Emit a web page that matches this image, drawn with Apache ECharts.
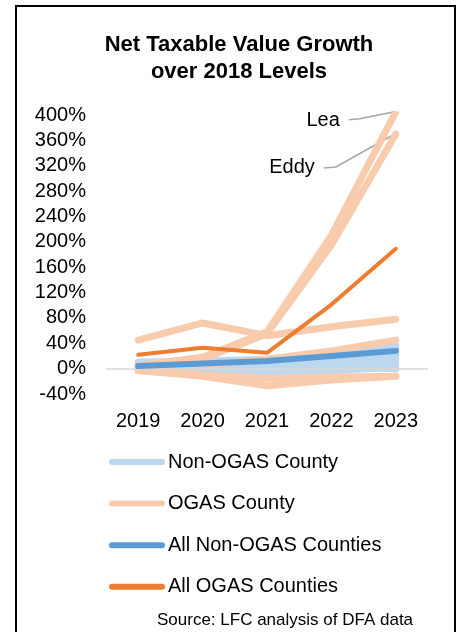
<!DOCTYPE html>
<html>
<head>
<meta charset="utf-8">
<script src="https://cdn.jsdelivr.net/npm/echarts@6/dist/echarts.min.js"></script>
<style>
  html, body { margin: 0; padding: 0; background: #fff; }
  #main { width: 461px; height: 632px; }
</style>
</head>
<body>
<div id="main"></div>
<script>
// categories and values (% growth over 2018)
var years = ['2019', '2020', '2021', '2022', '2023'];

// individual non oil & gas counties (light blue band)
var nonOgasCounties = [
  [0, 2, 3, 5, 0],
  [2, 4, 6, 10, 8],
  [3, 5, 8, 14, 15],
  [5, 7, 10, 18, 22],
  [6, 8, 12, 20, 27],
  [8, 10, 14, 24, 32],
  [10, 12, 15, 26, 36],
  [-2, -4, -5, -3, 2]
];

// individual oil & gas counties
var lea = [5, 18, 58, 210, 405];
var eddy = [3, 15, 55, 195, 370];
var ogasOthers = [
  [45, 72, 52, 66, 78],
  [2, 5, 15, 28, 45],
  [-3, -10, -15, -13, -12],
  [-3, -12, -27, -18, -12]
];

var allNonOgas = [4, 8, 12, 20, 28];
var allOgas = [22, 33, 25, 101, 189];

var yMin = -40, yMax = 400, yStep = 40;

var cLightBlue = '#BDD7EE';
var cLightOrange = '#F8CBAD';
var cBlue = '#5B9BD5';
var cOrange = '#ED7D31';

function lineSeries(name, data, color, width, z) {
  return {
    name: name,
    type: 'line',
    data: data,
    showSymbol: false,
    symbol: 'none',
    silent: true,
    z: z,
    itemStyle: { color: color },
    lineStyle: { color: color, width: width, cap: 'round', join: 'round' }
  };
}

var series = [];
// zero line
series.push({
  name: 'zero',
  type: 'line',
  data: [],
  markLine: {
    silent: true,
    symbol: 'none',
    label: { show: false },
    lineStyle: { color: '#D9D9D9', width: 1.5, type: 'solid' },
    data: [{ yAxis: 0 }]
  }
});
nonOgasCounties.forEach(function (d) {
  series.push(lineSeries('Non-OGAS County', d, cLightBlue, 7, 2));
});
var leaIdx = series.length;
series.push(lineSeries('OGAS County', lea, cLightOrange, 7, 3));
var eddyIdx = series.length;
series.push(lineSeries('OGAS County', eddy, cLightOrange, 7, 3));
ogasOthers.forEach(function (d) {
  series.push(lineSeries('OGAS County', d, cLightOrange, 7, 3));
});
series.push(lineSeries('All Non-OGAS Counties', allNonOgas, cBlue, 6, 5));
series.push(lineSeries('All OGAS Counties', allOgas, cOrange, 4, 6));

var chart = echarts.init(document.getElementById('main'));
var font = '"Liberation Sans", Arial, sans-serif';

chart.setOption({
  animation: false,
  textStyle: { fontFamily: font },
  grid: { left: 106, right: 33, top: 115, bottom: 238, containLabel: false },
  legend: {
    orient: 'vertical',
    left: 104,
    top: 447,
    itemWidth: 56,
    itemHeight: 6,
    itemGap: 21.6,
    icon: 'path://M3,0 L53,0 A3,3 0 0 1 53,6 L3,6 A3,3 0 0 1 3,0 Z',
    selectedMode: false,
    data: ['Non-OGAS County', 'OGAS County', 'All Non-OGAS Counties', 'All OGAS Counties'],
    textStyle: { fontSize: 20, color: '#000', fontFamily: font, padding: [0, 0, 0, -2] }
  },
  xAxis: {
    type: 'category',
    data: years,
    boundaryGap: true,
    axisLine: { show: false, onZero: false },
    axisTick: { show: false },
    axisLabel: { fontSize: 20, color: '#000', margin: 17, fontFamily: font }
  },
  yAxis: {
    type: 'value',
    min: yMin,
    max: yMax,
    interval: yStep,
    axisLine: { show: false },
    axisTick: { show: false },
    splitLine: { show: false },
    axisLabel: { fontSize: 20, color: '#000', margin: 20, fontFamily: font, formatter: '{value}%' }
  },
  series: series
});

// annotations for Lea and Eddy, placed from their last data points
var last = years.length - 1;
var pLea = chart.convertToPixel({ seriesIndex: leaIdx }, [years[last], lea[last]]);
var pEddy = chart.convertToPixel({ seriesIndex: eddyIdx }, [years[last], eddy[last]]);
var leaderStyle = { stroke: '#A6A6A6', lineWidth: 1.5, fill: null };

chart.setOption({
  graphic: [
    {
      type: 'rect',
      shape: { x: 16, y: 6, width: 439, height: 640 },
      style: { fill: null, stroke: '#000', lineWidth: 2 },
      silent: true
    },
    {
      type: 'text',
      x: 239, y: 45,
      style: { text: 'Net Taxable Value Growth', font: 'bold 22px ' + font, fill: '#000', textAlign: 'center', textVerticalAlign: 'middle' }
    },
    {
      type: 'text',
      x: 239, y: 72,
      style: { text: 'over 2018 Levels', font: 'bold 22px ' + font, fill: '#000', textAlign: 'center', textVerticalAlign: 'middle' }
    },
    {
      type: 'polyline',
      shape: { points: [[pLea[0] - 1, pLea[1]], [pLea[0] - 36, pLea[1] + 7], [pLea[0] - 47, pLea[1] + 8]] },
      style: leaderStyle
    },
    {
      type: 'text',
      x: pLea[0] - 56, y: pLea[1] + 9,
      style: { text: 'Lea', font: '20px ' + font, fill: '#000', textAlign: 'right', textVerticalAlign: 'middle' }
    },
    {
      type: 'polyline',
      shape: { points: [[pEddy[0] - 1, pEddy[1]], [pEddy[0] - 60, pEddy[1] + 33], [pEddy[0] - 72, pEddy[1] + 34]] },
      style: leaderStyle
    },
    {
      type: 'text',
      x: pEddy[0] - 81, y: pEddy[1] + 33,
      style: { text: 'Eddy', font: '20px ' + font, fill: '#000', textAlign: 'right', textVerticalAlign: 'middle' }
    },
    {
      type: 'text',
      x: 157, y: 620,
      style: { text: 'Source: LFC analysis of DFA data', font: '17px ' + font, fill: '#000', textVerticalAlign: 'middle' }
    }
  ]
});
</script>
</body>
</html>
